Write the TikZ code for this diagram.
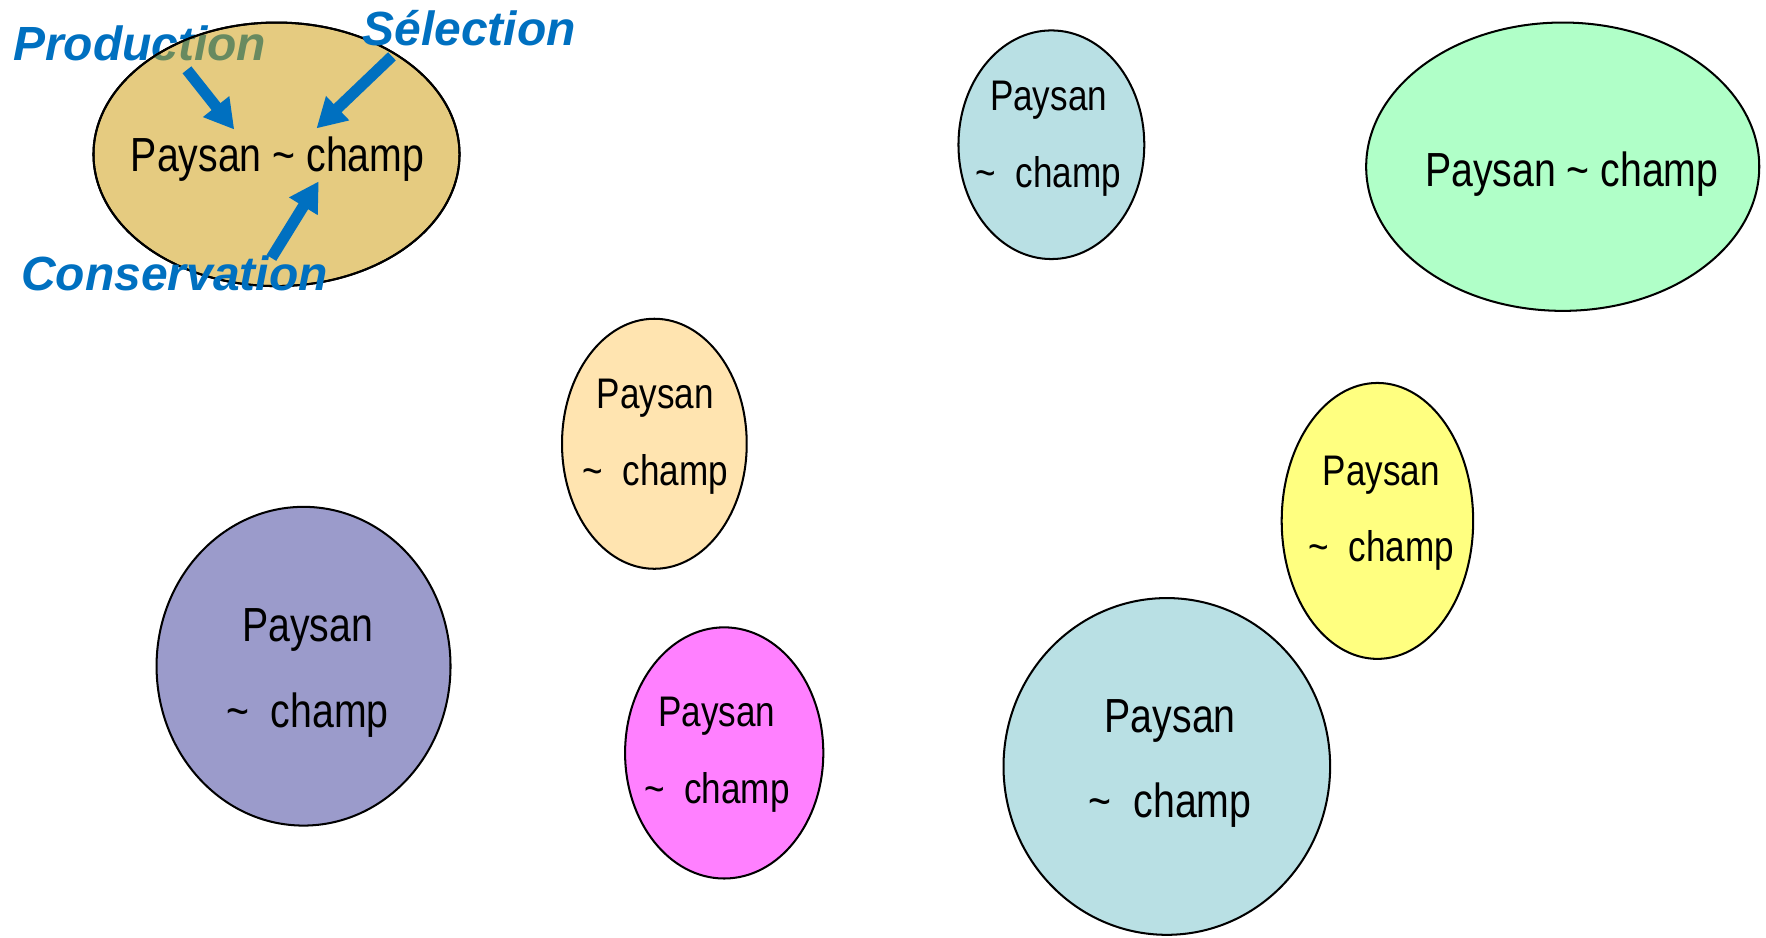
\documentclass[tikz,border=0pt]{standalone}
\usepackage{fontspec}
\setmainfont{Liberation Sans}
\newfontfamily\narrowfont{Liberation Sans}[FakeStretch=0.82]
\usetikzlibrary{arrows.meta,shapes.geometric}

\definecolor{tanfill}{RGB}{229,203,128}
\definecolor{iceblue}{RGB}{185,224,228}
\definecolor{mint}{RGB}{176,255,200}
\definecolor{peach}{RGB}{255,228,176}
\definecolor{lemon}{RGB}{255,255,128}
\definecolor{lavender}{RGB}{155,155,203}
\definecolor{pinkish}{RGB}{255,128,255}
\definecolor{labelblue}{RGB}{0,112,192}
\definecolor{shadeblue}{RGB}{104,138,96}

\begin{document}
\begin{tikzpicture}[x=0.5pt,y=-0.5pt,
  blob/.style={ellipse, draw=black, line width=0.9pt, inner sep=0pt},
  bigword/.style={font=\narrowfont\fontsize{21.25}{38}\selectfont, align=center, inner sep=0pt},
  smallword/.style={font=\narrowfont\fontsize{19}{34}\selectfont, align=center, inner sep=0pt},
  lbl/.style={font=\bfseries\itshape\fontsize{21.3}{25}\selectfont, text=labelblue, inner sep=0pt},
  push/.style={draw=labelblue, line width=5pt, -{Triangle[length=13pt,width=14pt]}}]
\useasboundingbox (0,0) rectangle (1568,832);

% first ellipse, partly covering the label above it
\node[lbl] (prod) at (124,38.5) {Production};
\node[blob, fill=tanfill, minimum width=162.5pt, minimum height=117pt] (e1) at (245.5,137) {};
\begin{scope}
  \clip (e1.center) ellipse [x radius=81.25pt, y radius=58.5pt];
  \node[lbl, text=shadeblue] (prodshade) at (124,38.5) {Production};
\end{scope}
\draw[line width=0.9pt] (e1.center) ellipse [x radius=81.25pt, y radius=58.5pt];
\node[bigword] (t1) at (246.5,141) {Paysan \textasciitilde\ champ};

% the other ellipses
\node[blob, fill=iceblue, minimum width=82.5pt, minimum height=101.5pt] (e2) at (933.5,128.5) {};
\node[smallword] (t2) at (931,123) {Paysan\\\textasciitilde\ \ champ};

\node[blob, fill=mint, minimum width=174.5pt, minimum height=128pt] (e3) at (1387.5,148) {};
\node[bigword] (t3) at (1395.5,154.5) {Paysan \textasciitilde\ champ};

\node[blob, fill=peach, minimum width=82pt, minimum height=111pt] (e4) at (581,394) {};
\node[smallword] (t4) at (582,388) {Paysan\\\textasciitilde\ \ champ};

\node[blob, fill=lemon, minimum width=85pt, minimum height=122.5pt] (e5) at (1223,462.5) {};
\node[smallword] (t5) at (1226.5,455.5) {Paysan\\\textasciitilde\ \ champ};

\node[blob, fill=lavender, minimum width=130.5pt, minimum height=141.5pt] (e6) at (269.5,591.5) {};
\node[bigword] (t6) at (273,597.5) {Paysan\\\textasciitilde\ \ champ};

\node[blob, fill=pinkish, minimum width=88pt, minimum height=111.5pt] (e7) at (643,668.5) {};
\node[smallword] (t7) at (636.5,670) {Paysan\\\textasciitilde\ \ champ};

\node[blob, fill=iceblue, minimum width=145pt, minimum height=149.5pt] (e8) at (1036,680.5) {};
\node[bigword] (t8) at (1039,678) {Paysan\\\textasciitilde\ \ champ};

% labels and arrows pointing at the first pair
\node[lbl] (sel) at (416.5,25) {Sélection};
\node[lbl] (cons) at (155,243) {Conservation};

\coordinate (pa) at (166,62);  \coordinate (pb) at (208,115);
\coordinate (sa) at (348,50);  \coordinate (sb) at (281,114);
\coordinate (ca) at (241,229); \coordinate (cb) at (283,161);
\draw[push] (pa) -- (pb);
\draw[push] (sa) -- (sb);
\draw[push] (ca) -- (cb);
\end{tikzpicture}
\end{document}
